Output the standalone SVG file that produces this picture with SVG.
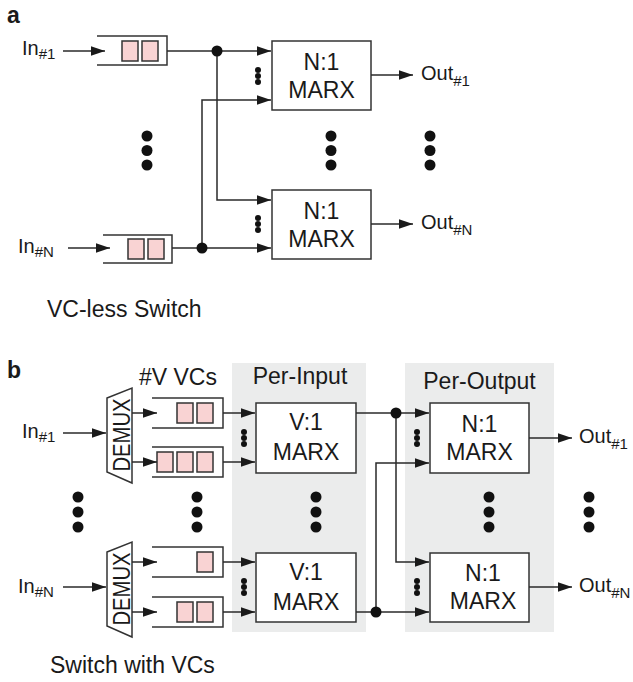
<svg xmlns="http://www.w3.org/2000/svg" width="633" height="682" viewBox="0 0 633 682">
<defs>
<marker id="ah" viewBox="0 0 14 10" refX="14" refY="5" markerWidth="14" markerHeight="10" markerUnits="userSpaceOnUse" orient="auto"><path d="M0,0.3 L14,5 L0,9.7 z" fill="#1a1a1a"/></marker>
</defs>
<style>
text{font-family:"Liberation Sans",Arial,sans-serif;fill:#1a1a1a}
.lbl{font-size:23px}
.io{font-size:20px}
.sub{font-size:15px}
.big{font-size:23px;font-weight:bold}
.box{fill:#fff;stroke:#333;stroke-width:1.5}
.q{fill:none;stroke:#333;stroke-width:1.5}
.cell{fill:#f9d3d3;stroke:#333;stroke-width:1.5}
.a{fill:none;stroke:#2a2a2a;stroke-width:1.5;marker-end:url(#ah)}
.bg{fill:#ebecec}
.d{fill:#111}
.mid{text-anchor:middle}
</style>
<rect width="633" height="682" fill="#fff"/>

<!-- Part a -->
<text class="big" x="7" y="23">a</text>
<g id="a-in1"><text class="io" x="22" y="55">In<tspan class="sub" dy="4">#1</tspan></text></g>
<g id="a-inN"><text class="io" x="18" y="253">In<tspan class="sub" dy="4">#N</tspan></text></g>
<g id="a-q1">
<path class="q" d="M97,36 H167 V65 H97"/>
<rect class="cell" x="122" y="41" width="16" height="20"/>
<rect class="cell" x="142" y="41" width="16" height="20"/>
</g>
<g id="a-qN">
<path class="q" d="M103,235 H172 V263 H103"/>
<rect class="cell" x="128" y="239" width="16" height="20"/>
<rect class="cell" x="148" y="239" width="16" height="20"/>
</g>
<g id="a-marx1">
<rect class="box" x="272" y="41" width="99" height="69"/>
<text class="lbl mid" x="321.5" y="69.5">N:1</text>
<text class="lbl mid" x="321.5" y="97.5">MARX</text>
</g>
<g id="a-marxN">
<rect class="box" x="272" y="190" width="99" height="69"/>
<text class="lbl mid" x="321.5" y="218.5">N:1</text>
<text class="lbl mid" x="321.5" y="246.5">MARX</text>
</g>
<g id="a-out1"><text class="io" x="421" y="80">Out<tspan class="sub" dy="6">#1</tspan></text></g>
<g id="a-outN"><text class="io" x="421" y="229">Out<tspan class="sub" dy="6">#N</tspan></text></g>
<g id="a-dots">
<circle class="d" cx="147" cy="136" r="5.5"/><circle class="d" cx="147" cy="150.5" r="5.5"/><circle class="d" cx="147" cy="165" r="5.5"/>
<circle class="d" cx="331" cy="136" r="5.5"/><circle class="d" cx="331" cy="150.5" r="5.5"/><circle class="d" cx="331" cy="165" r="5.5"/>
<circle class="d" cx="430" cy="136" r="5.5"/><circle class="d" cx="430" cy="150.5" r="5.5"/><circle class="d" cx="430" cy="165" r="5.5"/>
<circle class="d" cx="258" cy="70" r="3"/><circle class="d" cx="258" cy="76" r="3"/><circle class="d" cx="258" cy="82" r="3"/>
<circle class="d" cx="258" cy="218" r="3"/><circle class="d" cx="258" cy="224" r="3"/><circle class="d" cx="258" cy="230" r="3"/>
</g>
<g id="a-connectors">
<line class="a" x1="63" y1="51" x2="105" y2="51"/>
<line class="a" x1="68" y1="248" x2="110" y2="248"/>
<line class="a" x1="167" y1="51" x2="271" y2="51"/>
<polyline class="a" points="217,51 217,200 271,200"/>
<line class="a" x1="172" y1="248" x2="271" y2="248"/>
<polyline class="a" points="202,248 202,100 271,100"/>
<circle class="d" cx="217" cy="51" r="5.5"/>
<circle class="d" cx="202" cy="248" r="5.5"/>
<line class="a" x1="371" y1="75" x2="413" y2="75"/>
<line class="a" x1="371" y1="224" x2="413" y2="224"/>
</g>
<text class="lbl" x="47" y="317">VC-less Switch</text>

<!-- Part b -->
<text class="big" x="7" y="378">b</text>
<rect class="bg" x="232" y="363" width="134" height="269"/>
<rect class="bg" x="405" y="363" width="149" height="269"/>
<text class="lbl mid" x="300" y="384">Per-Input</text>
<text class="lbl mid" x="479.5" y="389">Per-Output</text>
<text class="lbl" x="139" y="385">#V VCs</text>

<g id="b-in1"><text class="io" x="22" y="438">In<tspan class="sub" dy="4">#1</tspan></text></g>
<g id="b-inN"><text class="io" x="18" y="593">In<tspan class="sub" dy="4">#N</tspan></text></g>

<g id="b-demux1">
<path class="box" d="M107,398 L132,388 L132,483 L107,472 z"/>
<text class="lbl mid" transform="translate(130,435) rotate(-90)" x="0" y="0" textLength="73" lengthAdjust="spacingAndGlyphs">DEMUX</text>
</g>
<g id="b-demuxN">
<path class="box" d="M107,552 L132,542 L132,637 L107,626 z"/>
<text class="lbl mid" transform="translate(130,589) rotate(-90)" x="0" y="0" textLength="73" lengthAdjust="spacingAndGlyphs">DEMUX</text>
</g>

<g id="b-q1a">
<path class="q" d="M152,398 H223 V428 H152"/>
<rect class="cell" x="177" y="403" width="16" height="20"/>
<rect class="cell" x="197" y="403" width="16" height="20"/>
</g>
<g id="b-q1b">
<path class="q" d="M152,447 H223 V477 H152"/>
<rect class="cell" x="157" y="452" width="16" height="20"/>
<rect class="cell" x="177" y="452" width="16" height="20"/>
<rect class="cell" x="197" y="452" width="16" height="20"/>
</g>
<g id="b-qNa">
<path class="q" d="M152,547 H223 V577 H152"/>
<rect class="cell" x="197" y="552" width="16" height="20"/>
</g>
<g id="b-qNb">
<path class="q" d="M152,597 H223 V627 H152"/>
<rect class="cell" x="177" y="602" width="16" height="20"/>
<rect class="cell" x="197" y="602" width="16" height="20"/>
</g>

<g id="b-vmarx1">
<rect class="box" x="256" y="403" width="100" height="70"/>
<text class="lbl mid" x="306" y="430">V:1</text>
<text class="lbl mid" x="306" y="460">MARX</text>
</g>
<g id="b-vmarxN">
<rect class="box" x="256" y="553" width="100" height="69"/>
<text class="lbl mid" x="306" y="580">V:1</text>
<text class="lbl mid" x="306" y="610">MARX</text>
</g>
<g id="b-nmarx1">
<rect class="box" x="430" y="403" width="99" height="70"/>
<text class="lbl mid" x="479.5" y="432">N:1</text>
<text class="lbl mid" x="479.5" y="460">MARX</text>
</g>
<g id="b-nmarxN">
<rect class="box" x="430" y="553" width="99" height="69"/>
<text class="lbl mid" x="483" y="581">N:1</text>
<text class="lbl mid" x="483" y="609">MARX</text>
</g>

<g id="b-out1"><text class="io" x="579" y="443">Out<tspan class="sub" dy="6">#1</tspan></text></g>
<g id="b-outN"><text class="io" x="579" y="592">Out<tspan class="sub" dy="6">#N</tspan></text></g>

<g id="b-dots">
<circle class="d" cx="78" cy="497" r="5.5"/><circle class="d" cx="78" cy="512" r="5.5"/><circle class="d" cx="78" cy="527" r="5.5"/>
<circle class="d" cx="197" cy="497" r="5.5"/><circle class="d" cx="197" cy="512" r="5.5"/><circle class="d" cx="197" cy="527" r="5.5"/>
<circle class="d" cx="316" cy="497" r="5.5"/><circle class="d" cx="316" cy="512" r="5.5"/><circle class="d" cx="316" cy="527" r="5.5"/>
<circle class="d" cx="489" cy="497" r="5.5"/><circle class="d" cx="489" cy="512" r="5.5"/><circle class="d" cx="489" cy="527" r="5.5"/>
<circle class="d" cx="589" cy="497" r="5.5"/><circle class="d" cx="589" cy="512" r="5.5"/><circle class="d" cx="589" cy="527" r="5.5"/>
<circle class="d" cx="244" cy="432" r="3"/><circle class="d" cx="244" cy="438" r="3"/><circle class="d" cx="244" cy="444" r="3"/>
<circle class="d" cx="244" cy="581" r="3"/><circle class="d" cx="244" cy="587" r="3"/><circle class="d" cx="244" cy="593" r="3"/>
<circle class="d" cx="417" cy="432" r="3"/><circle class="d" cx="417" cy="438" r="3"/><circle class="d" cx="417" cy="444" r="3"/>
<circle class="d" cx="417" cy="581" r="3"/><circle class="d" cx="417" cy="587" r="3"/><circle class="d" cx="417" cy="593" r="3"/>
</g>

<g id="b-connectors">
<line class="a" x1="63" y1="433" x2="106" y2="433"/>
<line class="a" x1="63" y1="587" x2="106" y2="587"/>
<line class="a" x1="132" y1="413" x2="157" y2="413"/>
<line class="a" x1="132" y1="462" x2="157" y2="462"/>
<line class="a" x1="132" y1="562" x2="157" y2="562"/>
<line class="a" x1="132" y1="612" x2="157" y2="612"/>
<line class="a" x1="223" y1="413" x2="255" y2="413"/>
<line class="a" x1="223" y1="462" x2="255" y2="462"/>
<line class="a" x1="223" y1="562" x2="255" y2="562"/>
<line class="a" x1="223" y1="612" x2="255" y2="612"/>
<line class="a" x1="356" y1="413" x2="429" y2="413"/>
<polyline class="a" points="396,413 396,562 429,562"/>
<line class="a" x1="356" y1="612" x2="429" y2="612"/>
<polyline class="a" points="376,612 376,463 429,463"/>
<circle class="d" cx="396" cy="413" r="5.5"/>
<circle class="d" cx="376" cy="612" r="5.5"/>
<line class="a" x1="529" y1="438" x2="572" y2="438"/>
<line class="a" x1="529" y1="587" x2="572" y2="587"/>
</g>
<text class="lbl" x="50" y="673">Switch with VCs</text>
</svg>
